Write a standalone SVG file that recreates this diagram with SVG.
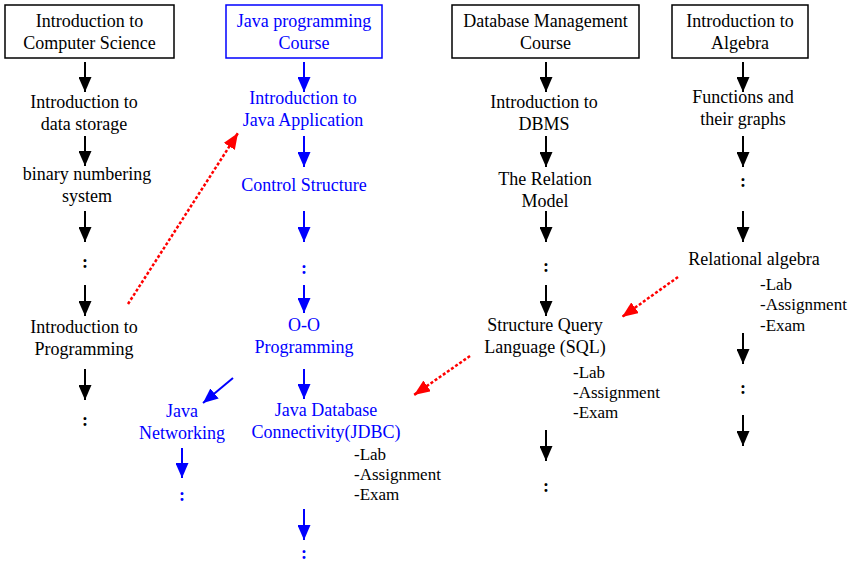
<svg xmlns="http://www.w3.org/2000/svg" width="850" height="565" viewBox="0 0 850 565">
<style>
text{font-family:"Liberation Serif","Times New Roman",serif;font-size:18px;text-anchor:middle;fill:#000}
.b{fill:#0000ff}
.d{font-weight:bold}
.s{font-size:17px;text-anchor:start}
.box{fill:#fff;stroke:#000;stroke-width:1.5}
.bbox{fill:#fff;stroke:#0000ff;stroke-width:1.5}
.k{stroke:#000;stroke-width:2;fill:none;marker-end:url(#ak)}
.bl{stroke:#0000ff;stroke-width:2;fill:none;marker-end:url(#ab)}
.r{stroke:#ff0000;stroke-width:2.5;stroke-dasharray:3,2;fill:none;marker-end:url(#ar)}
</style>
<defs>
<marker id="ak" markerUnits="userSpaceOnUse" markerWidth="15" markerHeight="13" refX="15" refY="6.5" orient="auto"><path d="M0,0L15,6.5L0,13z" fill="#000"/></marker>
<marker id="ab" markerUnits="userSpaceOnUse" markerWidth="15" markerHeight="13" refX="15" refY="6.5" orient="auto"><path d="M0,0L15,6.5L0,13z" fill="#0000ff"/></marker>
<marker id="ar" markerUnits="userSpaceOnUse" markerWidth="16" markerHeight="13" refX="16" refY="6.5" orient="auto"><path d="M0,0L16,6.5L0,13z" fill="#ff0000"/></marker>
</defs>
<rect width="850" height="565" fill="#fff"/>
<g id="connectors">
<line class="k" x1="85" y1="62" x2="85" y2="92"/>
<line class="k" x1="85" y1="136" x2="85" y2="166"/>
<line class="k" x1="85" y1="211" x2="85" y2="242"/>
<line class="k" x1="85" y1="285" x2="85" y2="316"/>
<line class="k" x1="85" y1="369" x2="85" y2="400"/>
<line class="bl" x1="304" y1="62" x2="304" y2="92"/>
<line class="bl" x1="304" y1="136" x2="304" y2="167"/>
<line class="bl" x1="304" y1="211" x2="304" y2="242"/>
<line class="bl" x1="304" y1="285" x2="304" y2="313"/>
<line class="bl" x1="304" y1="369" x2="304" y2="399"/>
<line class="bl" x1="304" y1="509" x2="304" y2="540"/>
<line class="bl" x1="233" y1="378" x2="203" y2="403"/>
<line class="bl" x1="182" y1="448" x2="182" y2="478"/>
<line class="k" x1="546" y1="62" x2="546" y2="92"/>
<line class="k" x1="546" y1="136" x2="546" y2="167"/>
<line class="k" x1="546" y1="211" x2="546" y2="242"/>
<line class="k" x1="546" y1="285" x2="546" y2="316"/>
<line class="k" x1="546" y1="430" x2="546" y2="461"/>
<line class="k" x1="743" y1="62" x2="743" y2="92"/>
<line class="k" x1="743" y1="136" x2="743" y2="167"/>
<line class="k" x1="743" y1="211" x2="743" y2="242"/>
<line class="k" x1="743" y1="333" x2="743" y2="364"/>
<line class="k" x1="743" y1="415" x2="743" y2="446"/>
<line class="r" x1="128" y1="304" x2="238" y2="133"/>
<line class="r" x1="678" y1="277" x2="622" y2="317"/>
<line class="r" x1="470" y1="356" x2="414" y2="395"/>
</g>
<g id="cs-course"><rect class="box" x="5" y="5" width="169" height="53"/><text x="89.5" y="27">Introduction to</text><text x="89.5" y="49">Computer Science</text></g>
<g id="data-storage"><text x="84" y="108">Introduction to</text><text x="84" y="130">data storage</text></g>
<g id="binary"><text x="87" y="180">binary numbering</text><text x="87" y="202">system</text></g>
<g id="cs-dots1"><text class="d" x="85" y="268">:</text></g>
<g id="intro-prog"><text x="84" y="333">Introduction to</text><text x="84" y="355">Programming</text></g>
<g id="cs-dots2"><text class="d" x="85" y="426">:</text></g>
<g id="java-course"><rect class="bbox" x="226" y="5" width="156" height="53"/><text class="b" x="304" y="27">Java programming</text><text class="b" x="304" y="49">Course</text></g>
<g id="java-app"><text class="b" x="303" y="104">Introduction to</text><text class="b" x="303" y="126">Java Application</text></g>
<g id="control"><text class="b" x="304" y="191">Control Structure</text></g>
<g id="java-dots1"><text class="b d" x="304" y="274">:</text></g>
<g id="oo"><text class="b" x="304" y="331">O-O</text><text class="b" x="304" y="353">Programming</text></g>
<g id="networking"><text class="b" x="182" y="417">Java</text><text class="b" x="182" y="439">Networking</text></g>
<g id="net-dots"><text class="b d" x="182" y="501">:</text></g>
<g id="jdbc"><text class="b" x="326" y="416">Java Database</text><text class="b" x="326" y="438">Connectivity(JDBC)</text><text class="s" x="354" y="460">-Lab</text><text class="s" x="354" y="480">-Assignment</text><text class="s" x="354" y="500">-Exam</text></g>
<g id="jdbc-dots"><text class="b d" x="304" y="559">:</text></g>
<g id="db-course"><rect class="box" x="452" y="5" width="187" height="53"/><text x="545.5" y="27">Database Management</text><text x="545.5" y="49">Course</text></g>
<g id="dbms"><text x="544" y="108">Introduction to</text><text x="544" y="130">DBMS</text></g>
<g id="relation"><text x="545" y="185">The Relation</text><text x="545" y="207">Model</text></g>
<g id="db-dots1"><text class="d" x="546" y="272">:</text></g>
<g id="sql"><text x="545" y="331">Structure Query</text><text x="545" y="353">Language (SQL)</text><text class="s" x="573" y="378">-Lab</text><text class="s" x="573" y="398">-Assignment</text><text class="s" x="573" y="418">-Exam</text></g>
<g id="db-dots2"><text class="d" x="546" y="492">:</text></g>
<g id="alg-course"><rect class="box" x="672" y="5" width="136" height="53"/><text x="740" y="27">Introduction to</text><text x="740" y="49">Algebra</text></g>
<g id="functions"><text x="743" y="103">Functions and</text><text x="743" y="125">their graphs</text></g>
<g id="alg-dots1"><text class="d" x="743" y="187">:</text></g>
<g id="rel-alg"><text x="754" y="265">Relational algebra</text><text class="s" x="760" y="290">-Lab</text><text class="s" x="760" y="310">-Assignment</text><text class="s" x="760" y="331">-Exam</text></g>
<g id="alg-dots2"><text class="d" x="743" y="394">:</text></g>
</svg>
